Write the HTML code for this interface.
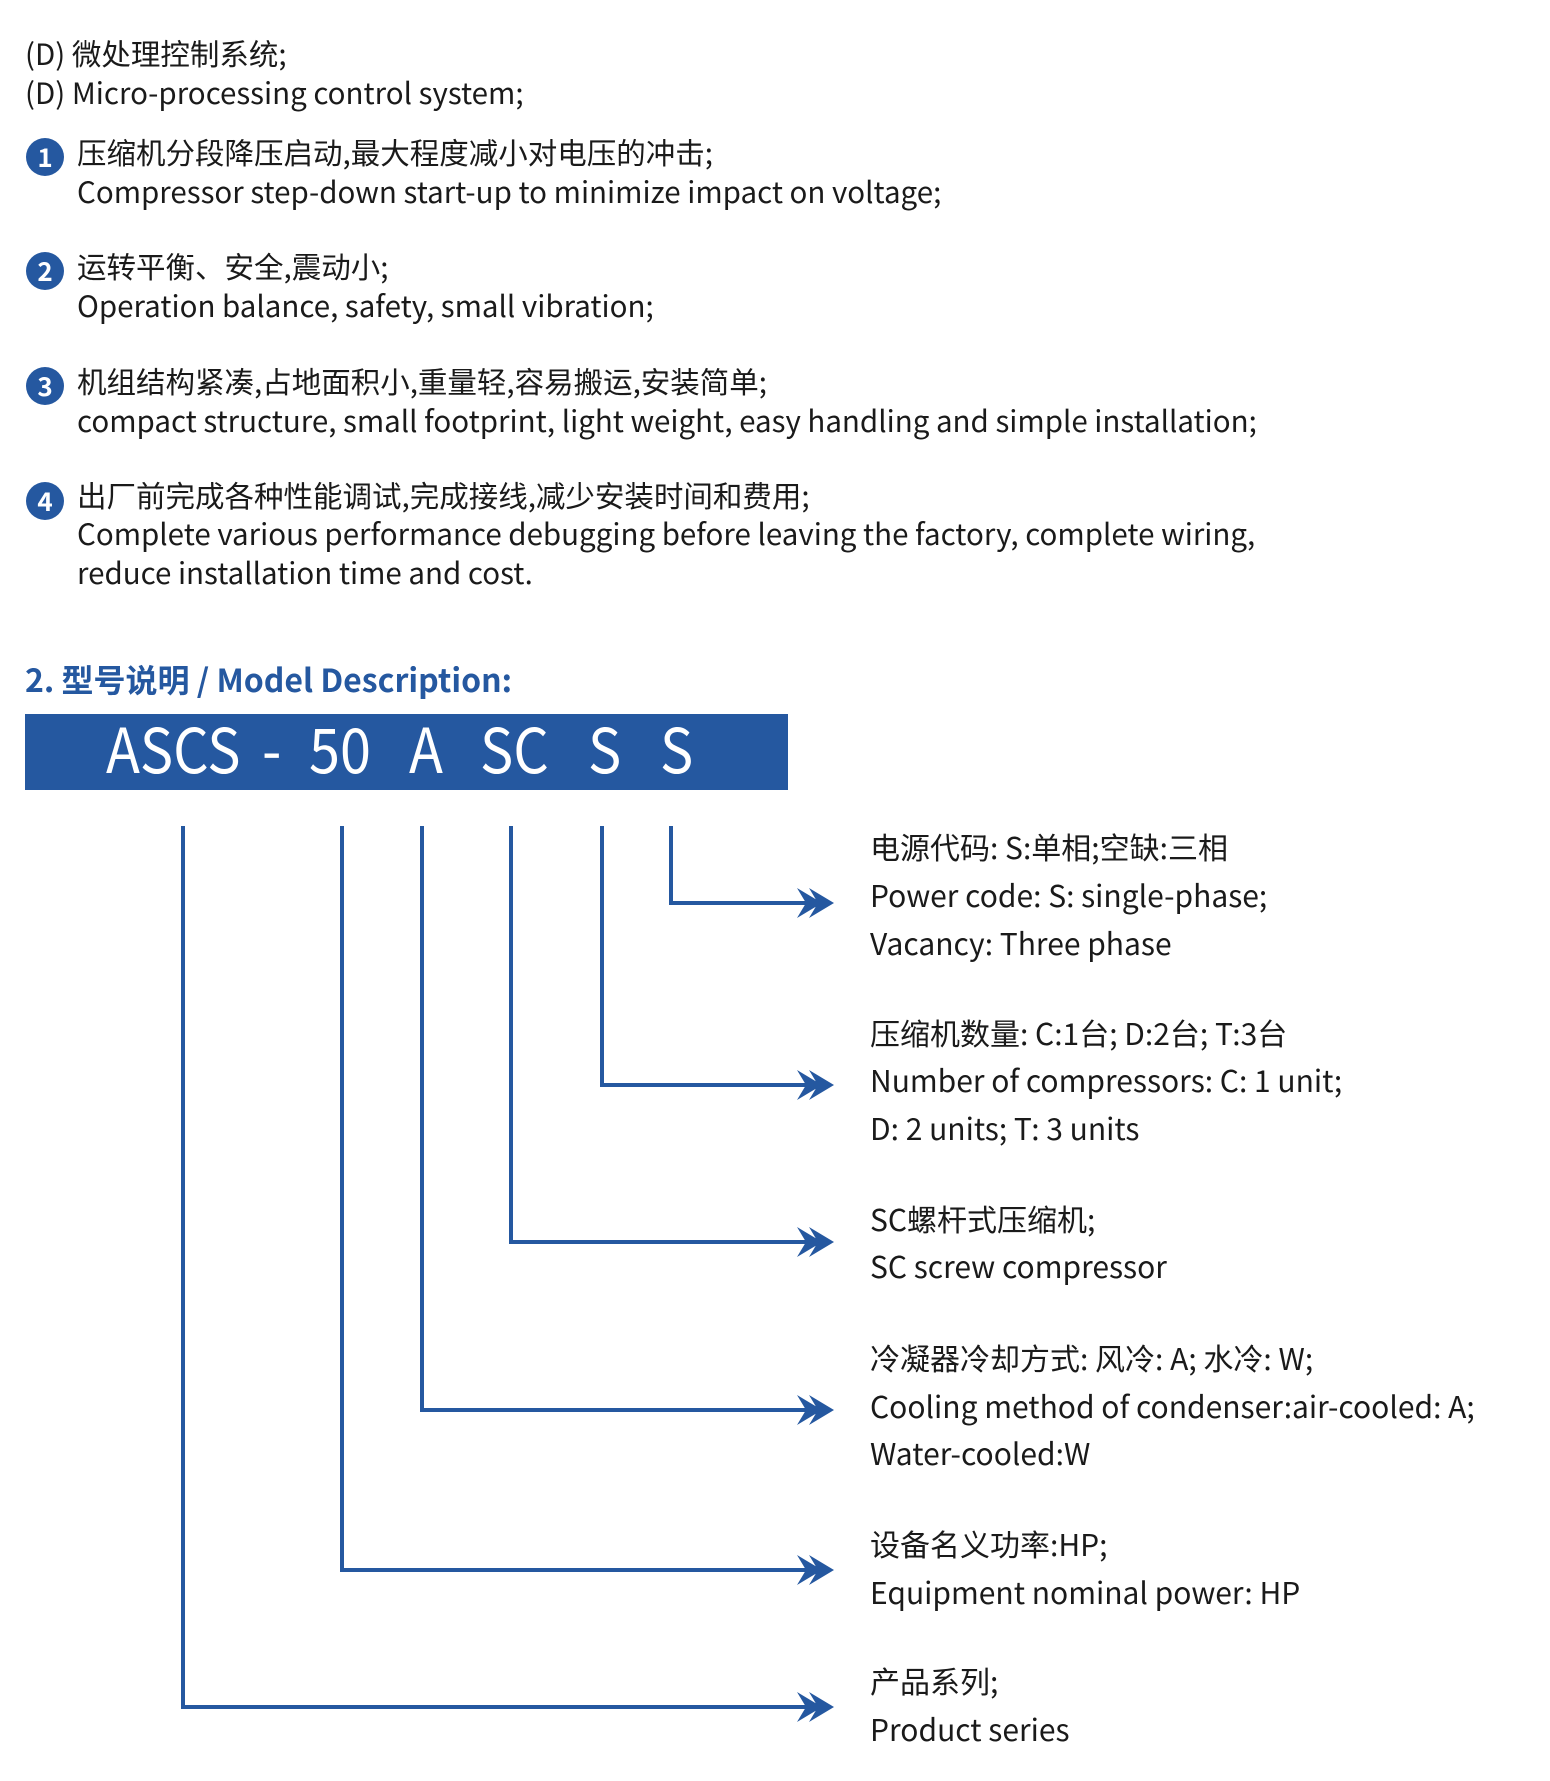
<!DOCTYPE html>
<html><head><meta charset="utf-8"><style>
body{margin:0;background:#fff;}
#p{position:relative;width:1550px;height:1781px;overflow:hidden;font-family:"Noto Sans CJK SC","Liberation Sans",sans-serif;color:#1a1a1a;}
.t{position:absolute;white-space:nowrap;font-size:30px;line-height:40px;}
.u{font-size:29.5px;}
.c{position:absolute;width:38px;height:38px;border-radius:50%;background:#2558a0;color:#fff;font-size:26px;font-weight:bold;line-height:38px;text-align:center;}
.b{position:absolute;color:#fff;font-size:62px;line-height:80px;top:706px;transform:scaleX(0.9);transform-origin:left center;}
</style></head><body><div id="p">
<div class="t u" style="left:25px;top:33px">(D) 微处理控制系统;</div>
<div class="t u" style="left:25px;top:72px">(D) Micro-processing control system;</div>

<div class="c" style="left:26px;top:138px">1</div>
<div class="t u" style="left:77px;top:132px">压缩机分段降压启动,最大程度减小对电压的冲击;</div>
<div class="t u" style="left:77px;top:171px">Compressor step-down start-up to minimize impact on voltage;</div>

<div class="c" style="left:26px;top:252px">2</div>
<div class="t u" style="left:77px;top:246px">运转平衡、安全,震动小;</div>
<div class="t u" style="left:77px;top:285px">Operation balance, safety, small vibration;</div>

<div class="c" style="left:26px;top:367px">3</div>
<div class="t u" style="left:77px;top:361px">机组结构紧凑,占地面积小,重量轻,容易搬运,安装简单;</div>
<div class="t u" style="left:77px;top:400px">compact structure, small footprint, light weight, easy handling and simple installation;</div>

<div class="c" style="left:26px;top:482px">4</div>
<div class="t u" style="left:77px;top:475px">出厂前完成各种性能调试,完成接线,减少安装时间和费用;</div>
<div class="t u" style="left:77px;top:513px">Complete various performance debugging before leaving the factory, complete wiring,</div>
<div class="t u" style="left:77px;top:552px">reduce installation time and cost.</div>

<div class="t" style="left:25px;top:659px;color:#2558a0;font-size:32px;font-weight:bold">2. 型号说明 / Model Description:</div>

<div style="position:absolute;left:25px;top:714px;width:763px;height:76px;background:#2558a0"></div>
<div class="b" style="left:106px">ASCS</div>
<div class="b" style="left:262px">-</div>
<div class="b" style="left:309px">50</div>
<div class="b" style="left:409px">A</div>
<div class="b" style="left:480px">SC</div>
<div class="b" style="left:588px">S</div>
<div class="b" style="left:660px">S</div>

<svg style="position:absolute;left:0;top:0" width="1550" height="1781">
<g stroke="#2558a0" stroke-width="4" fill="none">
<polyline points="671,826 671,903 815,903"/>
<polyline points="602,826 602,1085 815,1085"/>
<polyline points="511,826 511,1242 815,1242"/>
<polyline points="422,826 422,1410 815,1410"/>
<polyline points="342,826 342,1570 815,1570"/>
<polyline points="183,826 183,1707 815,1707"/>
</g>
<g fill="#2558a0">
<path d="M797,-15 L822,0 L797,15 L806,0 Z M809,-15 L834,0 L809,15 L818,0 Z" transform="translate(0,903)"/>
<path d="M797,-15 L822,0 L797,15 L806,0 Z M809,-15 L834,0 L809,15 L818,0 Z" transform="translate(0,1085)"/>
<path d="M797,-15 L822,0 L797,15 L806,0 Z M809,-15 L834,0 L809,15 L818,0 Z" transform="translate(0,1242)"/>
<path d="M797,-15 L822,0 L797,15 L806,0 Z M809,-15 L834,0 L809,15 L818,0 Z" transform="translate(0,1410)"/>
<path d="M797,-15 L822,0 L797,15 L806,0 Z M809,-15 L834,0 L809,15 L818,0 Z" transform="translate(0,1570)"/>
<path d="M797,-15 L822,0 L797,15 L806,0 Z M809,-15 L834,0 L809,15 L818,0 Z" transform="translate(0,1707)"/>
</g>
</svg>

<div class="t" style="left:870px;top:826px">电源代码: S:单相;空缺:三相</div>
<div class="t" style="left:870px;top:874px">Power code: S: single-phase;</div>
<div class="t" style="left:870px;top:922px">Vacancy: Three phase</div>

<div class="t" style="left:870px;top:1012px">压缩机数量: C:1台; D:2台; T:3台</div>
<div class="t" style="left:870px;top:1059px">Number of compressors: C: 1 unit;</div>
<div class="t" style="left:870px;top:1107px">D: 2 units; T: 3 units</div>

<div class="t" style="left:870px;top:1198px">SC螺杆式压缩机;</div>
<div class="t" style="left:870px;top:1245px">SC screw compressor</div>

<div class="t" style="left:870px;top:1337px">冷凝器冷却方式: 风冷: A; 水冷: W;</div>
<div class="t" style="left:870px;top:1385px">Cooling method of condenser:air-cooled: A;</div>
<div class="t" style="left:870px;top:1432px">Water-cooled:W</div>

<div class="t" style="left:870px;top:1523px">设备名义功率:HP;</div>
<div class="t" style="left:870px;top:1571px">Equipment nominal power: HP</div>

<div class="t" style="left:870px;top:1660px">产品系列;</div>
<div class="t" style="left:870px;top:1708px">Product series</div>
</div></body></html>
